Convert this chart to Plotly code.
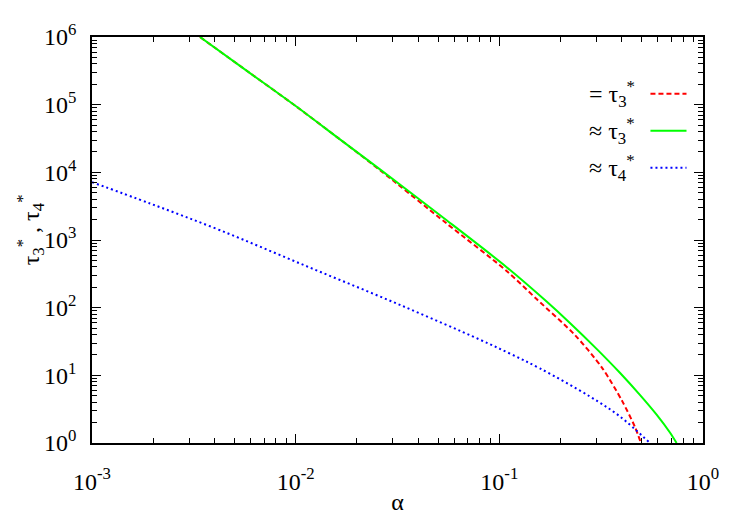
import plotly.graph_objects as go

# values (alpha, tau)
alpha_eq3 = [0.00339, 0.005966, 0.01, 0.0165, 0.02594, 0.05511, 0.1086, 0.1524, 0.2350, 0.3190, 0.3997, 0.4631, 0.4956]
tau_eq3 = [1.0e6, 2.93e5, 9.54e4, 3.07e4, 1.077e4, 1753, 349, 134, 39.4, 13.0, 4.24, 1.73, 1.0]

alpha_ap3 = [0.00339, 0.005966, 0.01, 0.0165, 0.02594, 0.05511, 0.1086, 0.1707, 0.2221, 0.3003, 0.3908, 0.4899, 0.5918, 0.6880, 0.7418]
tau_ap3 = [1.0e6, 2.93e5, 9.54e4, 3.07e4, 1.106e4, 1959, 397, 123, 59.4, 24.6, 10.9, 5.14, 2.62, 1.43, 1.0]

alpha_ap4 = [0.001, 0.001926, 0.004251, 0.01175, 0.03251, 0.08031, 0.1127, 0.1582, 0.2785, 0.3908, 0.5485]
tau_ap4 = [7145, 3469, 1395, 391, 109.9, 33.65, 20.95, 12.66, 4.86, 2.47, 1.0]

x_ticks = [1e-3, 1e-2, 1e-1, 1]
x_labels = ["10<sup>-3</sup>", "10<sup>-2</sup>", "10<sup>-1</sup>", "10<sup>0</sup>"]
y_ticks = [1, 10, 100, 1e3, 1e4, 1e5, 1e6]
y_labels = ["10<sup>%d</sup>" % i for i in range(7)]

legend_text = ["= τ<sub>3</sub><sup>*</sup>", "≈ τ<sub>3</sub><sup>*</sup>", "≈ τ<sub>4</sub><sup>*</sup>"]

font = "Liberation Serif, Times New Roman, serif"

red = dict(color="#ff0000", width=2, dash="5px,3px")
green = dict(color="#00ff00", width=2)
blue = dict(color="#0000ff", width=2, dash="2px,3px")

fig = go.Figure()
fig.add_trace(go.Scatter(x=alpha_eq3, y=tau_eq3, mode="lines", line=dict(shape="spline", smoothing=0.8, **red)))
fig.add_trace(go.Scatter(x=alpha_ap3, y=tau_ap3, mode="lines", line=dict(shape="spline", smoothing=0.8, **green)))
fig.add_trace(go.Scatter(x=alpha_ap4, y=tau_ap4, mode="lines", line=dict(shape="spline", smoothing=1.0, **blue)))

# gnuplot-style key: text on the left, sample on the right
key_y = [0.860, 0.769, 0.678]
for txt, st, ky in zip(legend_text, [red, green, blue], key_y):
    fig.add_shape(type="line", xref="paper", yref="paper", x0=0.914, x1=0.973, y0=ky, y1=ky, line=st)
    fig.add_annotation(xref="paper", yref="paper", x=0.892, y=ky, text=txt, showarrow=False,
                       xanchor="right", yanchor="middle", font=dict(family=font, size=24, color="black"))

# y axis title
fig.add_annotation(xref="paper", yref="paper", x=-0.1, y=0.526, textangle=-90, showarrow=False,
                   text="τ<sub>3</sub><sup>*</sup> , τ<sub>4</sub><sup>*</sup>", xanchor="center", yanchor="middle",
                   font=dict(family=font, size=24, color="black"))

minor_x = [k * 10 ** e for e in range(-3, 0) for k in range(2, 10)]
minor_y = [k * 10 ** e for e in range(0, 6) for k in range(2, 10)]

axis_common = dict(showline=True, linecolor="black", linewidth=1.5, mirror="allticks", ticks="inside",
                   ticklen=9, tickwidth=1, tickcolor="black", showgrid=False, zeroline=False,
                   tickfont=dict(family=font, size=24, color="black"))

fig.update_xaxes(type="log", range=[-3, 0], tickmode="array", tickvals=x_ticks, ticktext=x_labels,
                 minor=dict(tickmode="array", tickvals=minor_x, ticks="inside", ticklen=5, tickcolor="black", showgrid=False),
                 ticklabelstandoff=16,
                 title=dict(text="α", font=dict(family=font, size=24, color="black"), standoff=0),
                 **axis_common)
fig.update_yaxes(type="log", range=[0, 6], tickmode="array", tickvals=y_ticks, ticktext=y_labels,
                 minor=dict(tickmode="array", tickvals=minor_y, ticks="inside", ticklen=5, tickcolor="black", showgrid=False),
                 ticklabelstandoff=9,
                 **axis_common)

# page body adds an 8px margin, so the figure is 8px smaller on each axis
fig.update_layout(width=739, height=515, margin=dict(l=84, r=44, t=24, b=80),
                  plot_bgcolor="white", paper_bgcolor="white", showlegend=False)

fig.write_html("out.html")
